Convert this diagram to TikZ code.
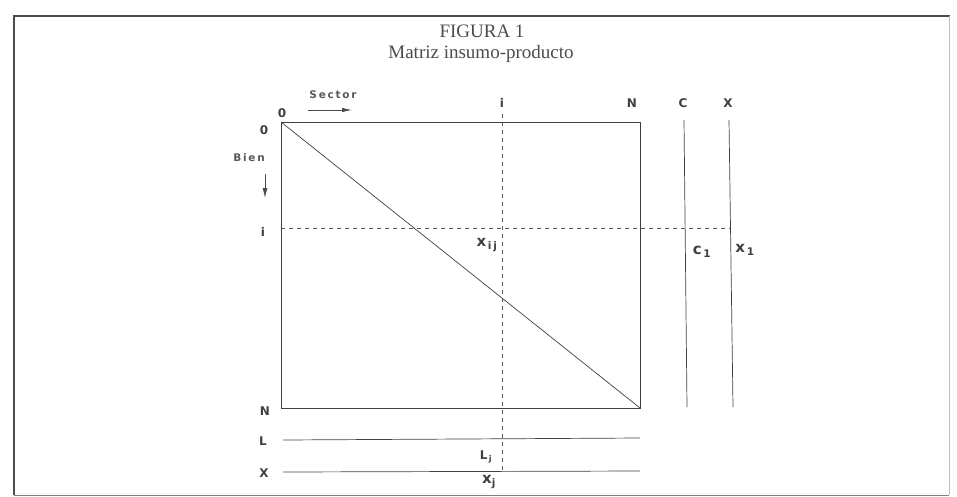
\documentclass[tikz,border=0pt]{standalone}
\usepackage{fontspec}
\setmainfont{Liberation Serif}
\setsansfont{DejaVu Sans}
\usetikzlibrary{arrows.meta}
\begin{document}
\begin{tikzpicture}[x=1pt,y=-1pt,
  ln/.style={draw=black!75,line width=0.9pt},
  dl/.style={draw=black!65,line width=0.7pt,dash pattern=on 4pt off 4pt},
  lbl/.style={font=\sffamily\bfseries\fontsize{12}{14}\selectfont,text=black!75,inner sep=1pt},
  sub/.style={font=\sffamily\bfseries\fontsize{15}{17}\selectfont,text=black!75,inner sep=1pt},
  ttl/.style={font=\fontsize{19}{21}\selectfont,text=black!70,inner sep=1pt}]
\useasboundingbox (0,0) rectangle (957,496);
\draw[draw=black!70,line width=1.4pt] (14,495) -- (14,16) -- (950,16);
\draw[draw=black!25,line width=0.6pt] (949,16) -- (949,495);
\draw[draw=black!50,line width=1.0pt] (14,495) -- (949,495);
% title
\node[ttl] (t1) at (482,31) {FIGURA 1};
\node[ttl] (t2) at (481,54) {Matriz insumo-producto};
% corner coordinates
\coordinate (tl) at (281,122);
\coordinate (tr) at (640,122);
\coordinate (bl) at (281,408);
\coordinate (br) at (640,408);
\draw[ln] (tl) -- (tr) -- (br) -- (bl) -- cycle;
\draw[ln,line width=0.7pt] (tl) -- (br);
% dashed guides
\coordinate (vt) at (502,114);
\coordinate (vb) at (502,472);
\coordinate (hl) at (281,228);
\coordinate (hr) at (731,228);
\draw[dl] (vt) -- (vb);
\draw[dl] (hl) -- (hr);
% right columns
\coordinate (ct) at (684,120); \coordinate (cb) at (687,407);
\coordinate (xt) at (729,120); \coordinate (xb) at (733,407);
\draw[ln,line width=0.7pt] (ct) -- (cb);
\draw[ln,line width=0.7pt] (xt) -- (xb);
% bottom rows
\coordinate (l1) at (283,440); \coordinate (l2) at (640,438);
\coordinate (x1) at (283,472); \coordinate (x2) at (640,471);
\draw[ln,line width=0.7pt] (l1) -- (l2);
\draw[ln,line width=0.7pt] (x1) -- (x2);
% labels
\node[lbl] (o1) at (282,113) {0};
\node[lbl] (o2) at (264,130) {0};
\node[lbl] (ci) at (502,103) {i};
\node[lbl] (cn) at (632,103) {N};
\node[lbl] (cc) at (683,103) {C};
\node[lbl] (cx) at (728,103) {X};
\node[lbl] (ri) at (263,232) {i};
\node[lbl] (rn) at (265,411) {N};
\node[lbl] (rl) at (263,441) {L};
\node[lbl] (rx) at (264,473) {X};
\node[lbl,font=\sffamily\bfseries\fontsize{10.5}{12}\selectfont,text=black!65] (sec) at (333,95) {S\,e\,c\,t\,o\,r};
\coordinate (sa) at (308,110); \coordinate (sb) at (352,110);
\draw[draw=black!70,line width=0.8pt,-{Latex[length=10pt,width=4.5pt]}] (sa) -- (sb);
\node[lbl,font=\sffamily\bfseries\fontsize{10.5}{12}\selectfont,text=black!65] (bien) at (249,158) {B\,i\,e\,n};
\coordinate (ba) at (265,174); \coordinate (bb) at (265,198);
\draw[draw=black!70,line width=0.8pt,-{Latex[length=10pt,width=5pt]}] (ba) -- (bb);
\node[sub] (xij) at (487,245) {x\textsubscript{\,i\,j}};
\node[sub] (cc1) at (702,252) {c\textsubscript{\,1}};
\node[sub] (xx1) at (745,250) {x\textsubscript{\,1}};
\node[sub,font=\sffamily\bfseries\fontsize{12}{14}\selectfont] (lj) at (486,457) {L\textsubscript{\,j}};
\node[sub] (xj) at (489,482) {x\textsubscript{j}};
\end{tikzpicture}
\end{document}
